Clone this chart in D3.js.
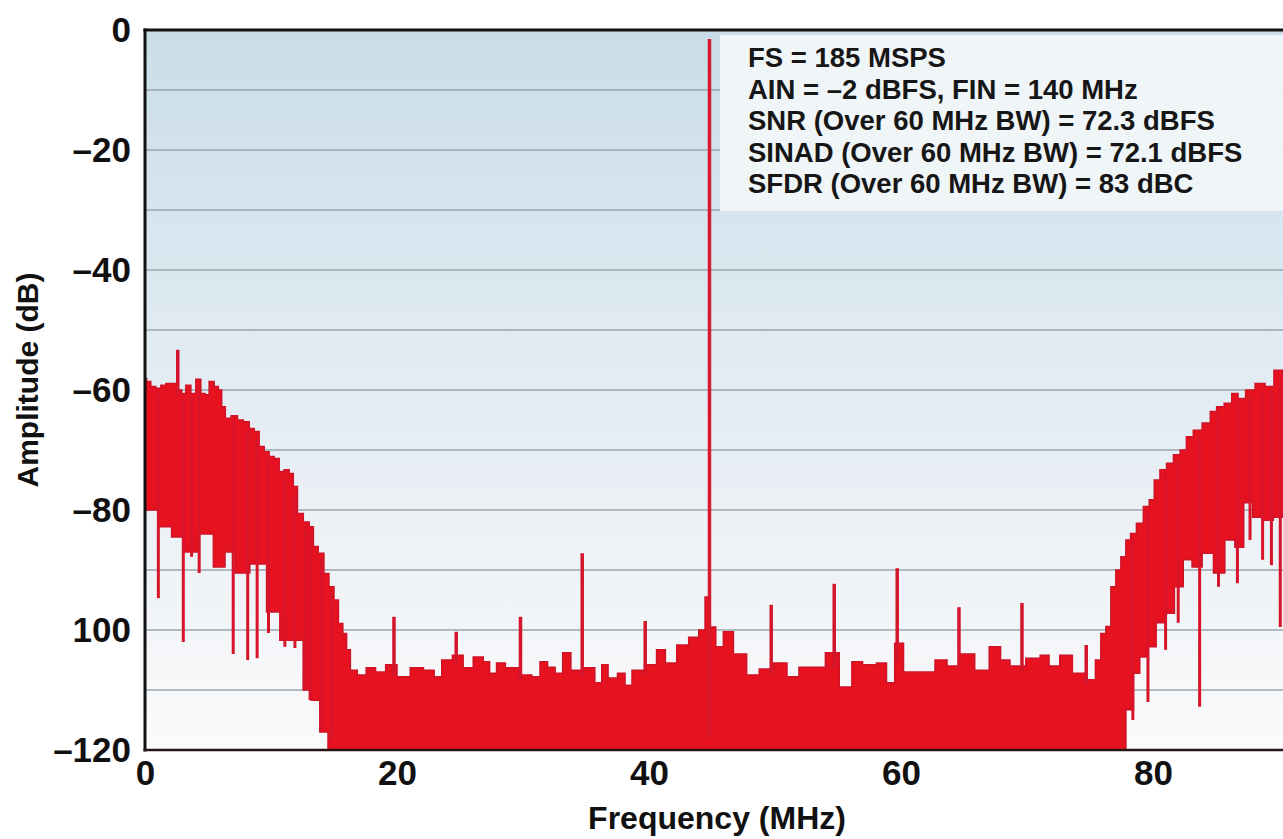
<!DOCTYPE html>
<html>
<head>
<meta charset="utf-8">
<script src="https://cdn.jsdelivr.net/npm/d3@7/dist/d3.min.js"></script>
<style>
  html, body { margin: 0; padding: 0; background: #ffffff; }
  svg { display: block; }
  text { font-family: "Liberation Sans", Arial, Helvetica, sans-serif; font-weight: bold; }
</style>
</head>
<body>
<svg id="chart" width="1283" height="839"></svg>
<script>
// ---------------- DATA ----------------
const xTickValues = [0, 20, 40, 60, 80];
const xTickLabels = ["0", "20", "40", "60", "80"];
const yTickValues = [0, -20, -40, -60, -80, -100, -120];
const yTickLabels = ["0", "\u201320", "\u201340", "\u201360", "\u201380", "100", "\u2013120"];
const gridValues = [-10, -20, -30, -40, -50, -60, -70, -80, -90, -100, -110];

// upper envelope of the noise spectrum [MHz, dB]
const upperEnv = [
  [0.0,-58.1],[0.26,-58.6],[0.66,-59.4],[1.06,-59.7],[1.46,-59.2],[1.85,-58.9],[2.25,-58.9],
  [2.78,-60],[3.04,-60.6],[3.44,-59.2],[3.84,-60.6],[4.23,-58.2],[4.63,-60.6],[4.89,-60.8],
  [5.29,-58.6],[5.69,-59.4],[5.95,-60],[6.22,-62.8],[6.53,-64.7],[7.14,-64.3],[7.54,-65],
  [8.07,-65.3],[8.47,-66.4],[8.86,-66.9],[9.26,-69.4],[9.66,-70.3],[10.05,-71.1],[10.45,-71.4],
  [10.85,-73.6],[11.24,-73.3],[11.64,-73.9],[11.9,-76.1],[12.3,-80.6],[12.83,-82],[13.23,-82.8],
  [13.5,-86.1],[14.0,-87.2],[14.4,-90.6],[14.8,-92.8],[15.2,-95],[15.5,-98.9],[15.9,-100.6],
  [16.1,-103.3],[16.5,-106.7],[17.2,-107.5],[17.9,-106.3],[18.7,-107],[19.5,-105.8],[20.5,-107.8],
  [21.6,-106.3],[22.6,-106.7],[23.3,-107.8],[23.8,-105],[25.0,-104.2],[25.5,-106.3],[26.6,-104.5],
  [27.1,-105.3],[27.6,-107.2],[28.2,-105.5],[29.0,-106.3],[30.3,-107.5],[31.1,-107.8],[31.6,-105.3],
  [32.3,-106.2],[32.8,-107.2],[33.5,-103.8],[34.1,-106.7],[35.3,-106.3],[36.1,-108.8],[36.4,-105.8],
  [37.1,-108],[37.9,-107.2],[38.3,-109.2],[39.0,-106.7],[40.3,-105.8],[40.9,-103.3],[41.7,-105.5],
  [42.7,-102.5],[43.6,-101.2],[44.3,-100],[44.6,-94.5],[45.0,-99.5],[45.6,-102.8],[46.2,-100.3],
  [47.2,-104],[48.3,-107.5],[49.2,-106.5],[50.6,-105.5],[51.3,-107.8],[52.5,-106.2],[53.6,-106.2],
  [54.4,-103.8],[55.8,-109.5],[56.4,-105.3],[57.5,-105.8],[58.6,-105.5],[59.1,-108.8],[59.9,-102.2],
  [60.5,-107],[62.1,-107],[63.3,-105],[64.0,-106],[65.2,-104],[66.5,-106.7],[67.5,-102.8],[68.3,-105],
  [69.0,-106],[70.8,-104.7],[71.3,-104.2],[72.2,-106],[73.0,-104.2],[74.2,-107.2],[75.2,-108.3],
  [75.66,-105],[76.06,-100.6],[76.46,-99.4],[76.85,-92.8],[77.25,-90],[77.65,-87.8],[78.04,-85],
  [78.4,-83.9],[78.97,-82.2],[79.5,-79.4],[79.9,-78.3],[80.3,-75],[80.8,-73.3],[81.35,-72.2],
  [81.9,-70.8],[82.4,-70],[82.9,-67.8],[83.5,-66.7],[84.3,-65.5],[84.8,-63.6],[85.3,-62.8],
  [86.0,-62.2],[86.5,-60.6],[87.0,-61.4],[87.7,-60],[88.5,-58.9],[89.3,-59.4],[89.9,-56.7],
  [91.0,-58],[92.5,-57.5]
];

// lower envelope of the noise band [MHz, dB]
const lowerEnv = [
  [0.0,-80],[0.4,-80],[1.72,-82.8],[2.5,-84.5],[3.57,-87],[4.9,-84],[5.95,-89.5],[6.75,-87],
  [7.54,-90.5],[9.1,-89],[10.2,-97],[11.2,-101.7],[12.3,-101.7],[12.8,-110],[13.6,-111.7],
  [14.15,-117],[14.9,-120],[77.5,-120],[78.2,-113.3],[78.7,-107.2],[79.2,-104.5],[79.9,-102.8],
  [80.6,-98.8],[81.3,-97.2],[82.1,-92.8],[82.7,-88.3],[83.5,-89.5],[84.3,-87.2],[85.3,-90.5],
  [86.1,-85],[86.9,-86.2],[87.5,-78.8],[88.3,-81.2],[89.0,-81.7],[90.1,-81.2],[92.5,-80]
];

// spurs rising above the noise [MHz, dB]
const spursUp = [
  [2.6,-53.3],[19.76,-97.8],[24.7,-100.3],[29.8,-97.8],[34.7,-87.2],[39.7,-98.5],
  [49.7,-95.8],[54.7,-92.3],[59.7,-89.7],[64.6,-96.2],[69.6,-95.5],[74.7,-102.5]
];

// downward spikes below the noise band [MHz, dB]
const spikesDown = [
  [1.06,-94.7],[3.04,-102],[3.7,-87.8],[4.3,-90.5],[7.0,-104],[8.15,-105],[8.9,-104.7],
  [9.8,-100.5],[11.1,-102.8],[11.9,-103],[12.7,-109.5],[13.1,-111.7],[14.0,-117],[14.8,-118.3],
  [78.4,-115],[79.6,-112],[81.0,-103.3],[82.0,-98.8],[83.7,-112.8],[85.2,-92.8],[86.7,-92.2],
  [87.7,-85],[88.7,-88.3],[89.4,-89.2],[90.1,-99.5]
];

// fundamental tone
const carrier = [44.8, -1.5];

const noteLines = [
  "FS = 185 MSPS",
  "AIN = \u20132 dBFS, FIN = 140 MHz",
  "SNR (Over 60 MHz BW) = 72.3 dBFS",
  "SINAD (Over 60 MHz BW) = 72.1 dBFS",
  "SFDR (Over 60 MHz BW) = 83 dBC"
];

// ---------------- LAYOUT ----------------
const W = 1283, H = 839;
const mLeft = 145, mTop = 30, mBottom = 750;
const x = d3.scaleLinear().domain([0, 92.5]).range([mLeft, mLeft + 92.5 * 12.6]);
const y = d3.scaleLinear().domain([-120, 0]).range([mBottom, mTop]);

const svg = d3.select("#chart");
const defs = svg.append("defs");
const grad = defs.append("linearGradient").attr("id", "bg").attr("x1", 0).attr("y1", 0).attr("x2", 0).attr("y2", 1);
grad.append("stop").attr("offset", "0%").attr("stop-color", "#c9dde9");
grad.append("stop").attr("offset", "45%").attr("stop-color", "#e1ebf2");
grad.append("stop").attr("offset", "80%").attr("stop-color", "#f1f4f7");
grad.append("stop").attr("offset", "100%").attr("stop-color", "#fbfbfc");

defs.append("clipPath").attr("id", "plotclip").append("rect")
  .attr("x", mLeft).attr("y", mTop).attr("width", W - mLeft).attr("height", mBottom - mTop);

// background
svg.append("rect").attr("x", mLeft).attr("y", mTop).attr("width", W - mLeft).attr("height", mBottom - mTop)
  .attr("fill", "url(#bg)");

// gridlines
svg.append("g").selectAll("line").data(gridValues).join("line")
  .attr("x1", mLeft).attr("x2", W).attr("y1", d => y(d)).attr("y2", d => y(d))
  .attr("stroke", "#9ba6ae").attr("stroke-width", 1.6);

const plot = svg.append("g").attr("clip-path", "url(#plotclip)");

// annotation box (behind spectrum)
plot.append("rect").attr("x", 720).attr("y", 35).attr("width", 620).attr("height", 176)
  .attr("fill", "#f2f6f9").attr("opacity", 0.93);

// noise band polygon: upper envelope left->right then lower envelope right->left
const band = upperEnv.concat(lowerEnv.slice().reverse());
const line = d3.line().x(d => x(d[0])).y(d => y(d[1])).curve(d3.curveStep);
plot.append("path").attr("d", line(band) + "Z")
  .attr("fill", "#e6121f").attr("stroke", "#cf1226").attr("stroke-width", 1.5)
  .attr("stroke-linejoin", "miter");

// interpolate upper envelope
const bis = d3.bisector(d => d[0]).left;
function upperAt(f) {
  const i = Math.max(1, Math.min(upperEnv.length - 1, bis(upperEnv, f)));
  const a = upperEnv[i - 1], b = upperEnv[i];
  return a[1] + (b[1] - a[1]) * (f - a[0]) / (b[0] - a[0]);
}

// downward spikes
plot.append("g").selectAll("line").data(spikesDown).join("line")
  .attr("x1", d => x(d[0])).attr("x2", d => x(d[0]))
  .attr("y1", d => y(d[1])).attr("y2", d => y(upperAt(d[0])) + 6)
  .attr("stroke", "#d8142a").attr("stroke-width", 3);

// upward spurs
plot.append("g").selectAll("line").data(spursUp).join("line")
  .attr("x1", d => x(d[0])).attr("x2", d => x(d[0]))
  .attr("y1", d => y(upperAt(d[0])) + 8).attr("y2", d => y(d[1]))
  .attr("stroke", "#d4152b").attr("stroke-width", 3.5);

// carrier
plot.append("line")
  .attr("x1", x(carrier[0])).attr("x2", x(carrier[0]))
  .attr("y1", y(-118)).attr("y2", y(carrier[1]))
  .attr("stroke", "#d81a30").attr("stroke-width", 3.5);

// annotation text
svg.append("g").selectAll("text").data(noteLines).join("text")
  .attr("x", 748).attr("y", (d, i) => 67 + i * 31.5)
  .attr("font-size", 27.5).attr("fill", "#161616")
  .text(d => d);

// frame
svg.append("line").attr("x1", mLeft - 1.5).attr("x2", W).attr("y1", mTop).attr("y2", mTop)
  .attr("stroke", "#111").attr("stroke-width", 3);
svg.append("line").attr("x1", mLeft).attr("x2", mLeft).attr("y1", mTop - 1.5).attr("y2", mBottom + 1.5)
  .attr("stroke", "#111").attr("stroke-width", 3);
svg.append("line").attr("x1", mLeft - 1.5).attr("x2", W).attr("y1", mBottom).attr("y2", mBottom)
  .attr("stroke", "#2a1416").attr("stroke-width", 2.5);

// axes
const yAxis = d3.axisLeft(y).tickValues(yTickValues).tickSize(0).tickPadding(14)
  .tickFormat((d, i) => yTickLabels[i]);
const gy = svg.append("g").attr("transform", `translate(${mLeft},0)`).call(yAxis);
gy.select(".domain").remove();
gy.selectAll("text").attr("font-size", 35).attr("fill", "#111")
  .attr("font-family", "Liberation Sans, Arial, sans-serif").attr("font-weight", "bold");

const xAxis = d3.axisBottom(x).tickValues(xTickValues).tickSize(0).tickPadding(10)
  .tickFormat((d, i) => xTickLabels[i]);
const gx = svg.append("g").attr("transform", `translate(0,${mBottom})`).call(xAxis);
gx.select(".domain").remove();
gx.selectAll("text").attr("font-size", 35).attr("fill", "#111")
  .attr("font-family", "Liberation Sans, Arial, sans-serif").attr("font-weight", "bold");

// axis titles
svg.append("text").attr("x", 717).attr("y", 829).attr("text-anchor", "middle")
  .attr("font-size", 32).attr("fill", "#111").text("Frequency (MHz)");
svg.append("text").attr("transform", "translate(38,380) rotate(-90)").attr("text-anchor", "middle")
  .attr("font-size", 30).attr("fill", "#111").text("Amplitude (dB)");
</script>
</body>
</html>
